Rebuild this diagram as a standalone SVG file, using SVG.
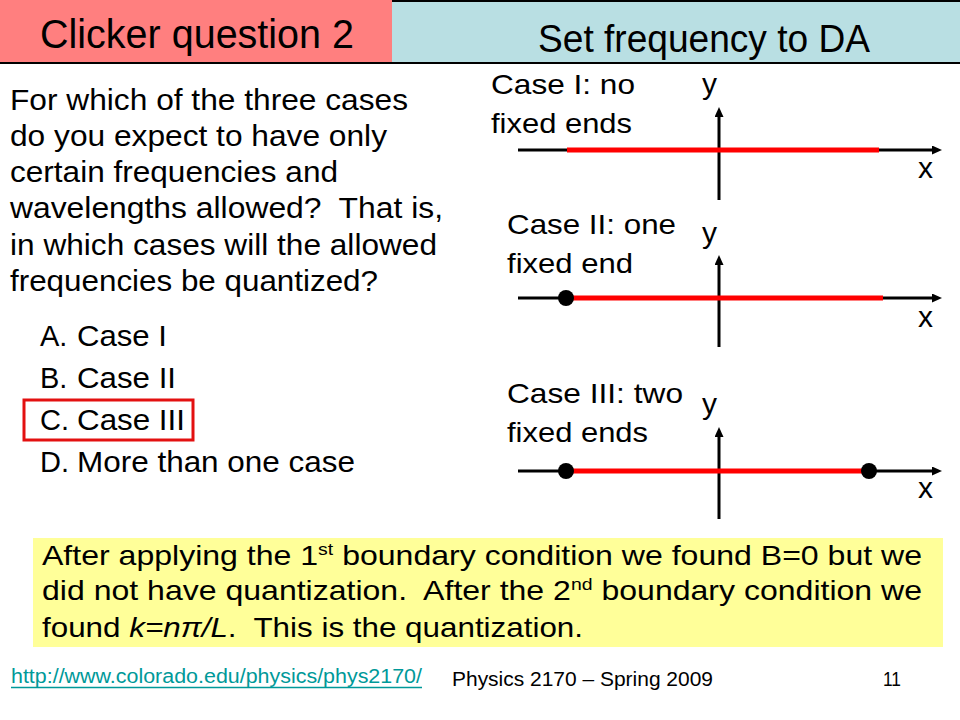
<svg xmlns="http://www.w3.org/2000/svg" width="960" height="720" viewBox="0 0 960 720">
<defs>
<marker id="arr" markerUnits="userSpaceOnUse" markerWidth="12" markerHeight="10" refX="3" refY="4.5" orient="auto">
<path d="M0,0 L10,4.5 L0,9 z" fill="#000"/>
</marker>
<style>
text{font-family:"Liberation Sans",Arial,sans-serif;fill:#000;white-space:pre}
.hd{font-size:40px}
.q{font-size:29px}
.lbl{font-size:28px}
.ax{font-size:30px}
.note{font-size:28px}
.ft{font-size:20px}
.axis{stroke:#000;stroke-width:3;fill:none}
.red{stroke:#FF0000;stroke-width:5;fill:none}
.dot{fill:#000}
</style>
</defs>
<rect width="960" height="720" fill="#fff"/>
<g id="header">
<rect x="0" y="0" width="392" height="63" fill="#FF7F7F"/>
<rect x="392" y="0" width="568" height="63" fill="#B9DFE3"/>
<line x1="392" y1="1" x2="960" y2="1" stroke="#000" stroke-width="2"/>
<line x1="0" y1="63" x2="960" y2="63" stroke="#000" stroke-width="2"/>
<text class="hd" x="40" y="48" textLength="314" lengthAdjust="spacingAndGlyphs">Clicker question 2</text>
<text class="hd" x="538" y="52" style="font-size:38px" textLength="332" lengthAdjust="spacingAndGlyphs">Set frequency to DA</text>
</g>
<g id="question">
<text class="q" x="10" y="110" textLength="398" lengthAdjust="spacingAndGlyphs">For which of the three cases</text>
<text class="q" x="10" y="146" textLength="377" lengthAdjust="spacingAndGlyphs">do you expect to have only</text>
<text class="q" x="10" y="182" textLength="328" lengthAdjust="spacingAndGlyphs">certain frequencies and</text>
<text class="q" x="10" y="218" textLength="433" lengthAdjust="spacingAndGlyphs">wavelengths allowed?  That is,</text>
<text class="q" x="10" y="255" textLength="427" lengthAdjust="spacingAndGlyphs">in which cases will the allowed</text>
<text class="q" x="10" y="291" textLength="368" lengthAdjust="spacingAndGlyphs">frequencies be quantized?</text>
</g>
<g id="options">
<text class="q" x="40" y="346">A.</text><text class="q" x="77" y="346" textLength="90" lengthAdjust="spacingAndGlyphs">Case I</text>
<text class="q" x="40" y="388">B.</text><text class="q" x="77" y="388" textLength="99" lengthAdjust="spacingAndGlyphs">Case II</text>
<text class="q" x="40" y="430">C.</text><text class="q" x="77" y="430" textLength="108" lengthAdjust="spacingAndGlyphs">Case III</text>
<text class="q" x="40" y="472">D.</text><text class="q" x="77" y="472" textLength="278" lengthAdjust="spacingAndGlyphs">More than one case</text>
<rect id="answer-box" x="24" y="400" width="169" height="40" fill="none" stroke="#E31010" stroke-width="3"/>
</g>
<g id="case1">
<text class="lbl" x="491" y="94" textLength="144" lengthAdjust="spacingAndGlyphs">Case I: no</text>
<text class="lbl" x="491" y="133" textLength="141" lengthAdjust="spacingAndGlyphs">fixed ends</text>
<text class="ax" x="702" y="94">y</text>
<text class="ax" x="918" y="178">x</text>
</g>
<g id="case2">
<text class="lbl" x="507" y="234" textLength="169" lengthAdjust="spacingAndGlyphs">Case II: one</text>
<text class="lbl" x="507" y="273" textLength="126" lengthAdjust="spacingAndGlyphs">fixed end</text>
<text class="ax" x="702" y="243">y</text>
<text class="ax" x="918" y="327">x</text>
</g>
<g id="case3">
<text class="lbl" x="507" y="403" textLength="176" lengthAdjust="spacingAndGlyphs">Case III: two</text>
<text class="lbl" x="507" y="442" textLength="141" lengthAdjust="spacingAndGlyphs">fixed ends</text>
<text class="ax" x="702" y="414">y</text>
<text class="ax" x="918" y="498">x</text>
</g>
<g id="connectors">
<line class="axis" x1="518" y1="150" x2="935" y2="150" marker-end="url(#arr)"/>
<line class="axis" x1="719" y1="200" x2="719" y2="114" marker-end="url(#arr)"/>
<line class="red" x1="567" y1="150" x2="879" y2="150"/>
<line class="axis" x1="518" y1="298" x2="935" y2="298" marker-end="url(#arr)"/>
<line class="axis" x1="719" y1="347" x2="719" y2="262" marker-end="url(#arr)"/>
<line class="red" x1="567" y1="298" x2="883" y2="298"/>
<circle class="dot" cx="566" cy="298" r="8"/>
<line class="axis" x1="518" y1="471" x2="935" y2="471" marker-end="url(#arr)"/>
<line class="axis" x1="719" y1="519" x2="719" y2="434" marker-end="url(#arr)"/>
<line class="red" x1="567" y1="471" x2="869" y2="471"/>
<circle class="dot" cx="566" cy="471" r="8"/>
<circle class="dot" cx="869" cy="471" r="8"/>
</g>
<g id="note">
<rect x="33" y="538" width="910" height="109" fill="#FFFF99"/>
<text class="note" x="42" y="565" textLength="880" lengthAdjust="spacingAndGlyphs">After applying the 1<tspan style="font-size:17px" dy="-10">st</tspan><tspan dy="10"> boundary condition we found B=0 but we</tspan></text>
<text class="note" x="42" y="600" textLength="880" lengthAdjust="spacingAndGlyphs">did not have quantization.  After the 2<tspan style="font-size:17px" dy="-10">nd</tspan><tspan dy="10"> boundary condition we</tspan></text>
<text class="note" x="42" y="637" textLength="541" lengthAdjust="spacingAndGlyphs">found <tspan font-style="italic">k=nπ/L</tspan>.  This is the quantization.</text>
</g>
<g id="footer">
<text class="ft" x="11" y="683" style="fill:#009999" textLength="411" lengthAdjust="spacingAndGlyphs">http://www.colorado.edu/physics/phys2170/</text>
<line x1="11" y1="687.5" x2="422" y2="687.5" stroke="#009999" stroke-width="1.5"/>
<text class="ft" x="452" y="686" textLength="261" lengthAdjust="spacingAndGlyphs">Physics 2170 – Spring 2009</text>
<text class="ft" x="883" y="686" textLength="18" lengthAdjust="spacingAndGlyphs">11</text>
</g>
</svg>
